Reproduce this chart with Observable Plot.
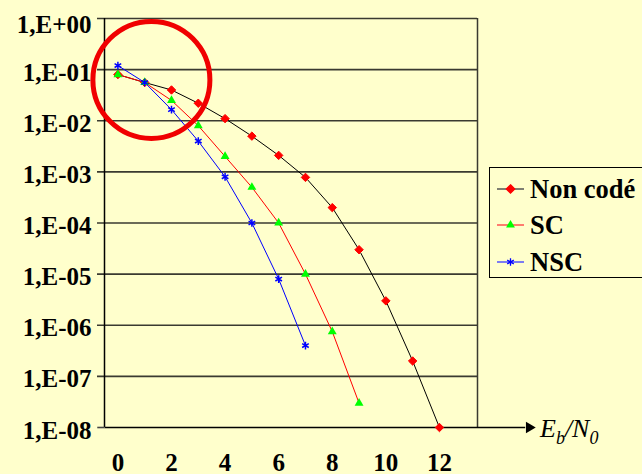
<!DOCTYPE html>
<html><head><meta charset="utf-8">
<script src="https://cdn.jsdelivr.net/npm/d3@7"></script>
<script src="https://cdn.jsdelivr.net/npm/@observablehq/plot@0.6"></script>
<style>
html,body{margin:0;padding:0;background:#FFFFCC;overflow:hidden;}
#wrap{position:relative;width:642px;height:474px;background:#FFFFCC;overflow:hidden;font-family:"Liberation Serif","Times New Roman",serif;}
#chart{position:absolute;left:0;top:0;}
#legend{position:absolute;left:489px;top:167px;width:180px;height:111px;border:1.5px solid #000;box-sizing:border-box;}
.row{position:absolute;left:7px;height:30px;display:flex;align-items:center;}
.row span{font-family:"Liberation Serif","Times New Roman",serif;font-weight:bold;font-size:26.5px;color:#000;margin-left:6px;line-height:30px;}
#xlabel{position:absolute;left:540px;top:416px;font-family:"Liberation Serif","Times New Roman",serif;font-style:italic;font-size:26px;line-height:26px;color:#000;white-space:nowrap;}
#xlabel .sub{font-size:18px;position:relative;top:7px;}
</style>
</head><body>
<div id="wrap">
  <div id="chart"></div>
  <div id="legend"></div>
  <div id="xlabel">E<span class="sub">b</span>/N<span class="sub">0</span></div>
</div>
<script>
// ---- data ----
const ebn0 = [0, 1, 2, 3, 4, 5, 6, 7, 8, 9, 10, 11, 12];
const nonCode = [0.08, 0.056, 0.040, 0.022, 0.011, 0.005, 0.0021, 0.00078, 0.0002, 0.00003, 0.000003, 0.0000002, 0.00000001];
const sc = [0.08, 0.056, 0.025, 0.008, 0.002, 0.0005, 0.0001, 0.00001, 0.00000075, 0.00000003];
const nsc = [0.12, 0.056, 0.0165, 0.004, 0.0008, 0.0001, 0.000008, 0.0000004];
const seriesNames = ["Non codé", "SC", "NSC"];
const yTicks = [1, 1e-1, 1e-2, 1e-3, 1e-4, 1e-5, 1e-6, 1e-7, 1e-8];
const xTicks = [0, 2, 4, 6, 8, 10, 12];
const xDomain = [-0.5, 13.42];
const highlight = [{x: 1.25, y: 0.063}];

const rows = (vals) => vals.map((v, i) => ({x: ebn0[i], y: v}));
const fmt = d => {
  const e = Math.round(Math.log10(d));
  return "1,E" + (e >= 0 ? "+" : "-") + String(Math.abs(e)).padStart(2, "0");
};
const font = {fontFamily: "'Liberation Serif', 'Times New Roman', serif", fontWeight: "bold", fontSize: 25, fill: "#000"};

const chart = Plot.plot({
  width: 642, height: 474,
  marginLeft: 104, marginRight: 165, marginTop: 18, marginBottom: 47,
  style: {background: "transparent", overflow: "visible"},
  x: {domain: xDomain, axis: null},
  y: {type: "log", domain: [1e-8, 1], axis: null},
  marks: [
    Plot.ruleY(yTicks.slice(0, -1), {stroke: "#3a3a30", strokeWidth: 1.6, insetLeft: -7}),
    Plot.ruleX([xDomain[0]], {stroke: "#000", strokeWidth: 1.5}),
    Plot.ruleX([xDomain[1]], {stroke: "#3a3a30", strokeWidth: 1.5}),
    Plot.link([{x1: xDomain[0], x2: 15.2}], {x1: "x1", x2: "x2", y1: () => 1e-8, y2: () => 1e-8, stroke: "#000", strokeWidth: 1.6}),
    Plot.link([{x1: xDomain[0] - 0.27, x2: xDomain[0]}], {x1: "x1", x2: "x2", y1: () => 1e-8, y2: () => 1e-8, stroke: "#444", strokeWidth: 1.6}),
    Plot.dot([{x: 15.35, y: 1e-8}], {x: "x", y: "y", symbol: "triangle", rotate: 90, r: 4.2, fill: "#000", stroke: "none"}),
    Plot.text(yTicks.slice(1), {x: () => xDomain[0], y: d => d, text: fmt, textAnchor: "end", dx: -13, dy: 3, ...font}),
    Plot.text([yTicks[0]], {x: () => xDomain[0], y: d => d, text: fmt, textAnchor: "end", dx: -13, dy: 6, ...font}),
    Plot.text(xTicks, {x: d => d, y: () => 1e-8, text: d => String(d), dy: 35, ...font}),
    Plot.line(rows(nonCode), {x: "x", y: "y", stroke: "#000", strokeWidth: 1}),
    Plot.line(rows(sc), {x: "x", y: "y", stroke: "#ff0000", strokeWidth: 1}),
    Plot.line(rows(nsc), {x: "x", y: "y", stroke: "#0000ff", strokeWidth: 1}),
    Plot.dot(rows(nonCode), {x: "x", y: "y", symbol: "diamond2", r: 3.8, fill: "#ff0000", stroke: "#ff0000", strokeWidth: 1}),
    Plot.dot(rows(sc), {x: "x", y: "y", symbol: "triangle", r: 3.3, fill: "#00ff00", stroke: "none"}),
    Plot.dot(rows(nsc), {x: "x", y: "y", symbol: "asterisk", r: 3.6, stroke: "#0000ff", strokeWidth: 1.5}),
    Plot.dot(highlight, {x: "x", y: "y", r: 58.5, fill: "none", stroke: "#f00000", strokeWidth: 5})
  ]
});
document.getElementById("chart").appendChild(chart);

// ---- legend ----
const legendStyles = [
  {line: "#555", sym: d3.symbolDiamond2, size: 45, fill: "#ff0000", stroke: "#ff0000"},
  {line: "#ff5050", sym: d3.symbolTriangle, size: 34, fill: "#00ff00", stroke: "none"},
  {line: "#5050ff", sym: d3.symbolAsterisk, size: 40, fill: "none", stroke: "#0000ff"}
];
const legendTops = [6, 42, 79];
const legend = d3.select("#legend");
seriesNames.forEach((name, i) => {
  const st = legendStyles[i];
  const row = legend.append("div").attr("class", "row").style("top", legendTops[i] + "px");
  const svg = row.append("svg").attr("width", 27).attr("height", 14);
  svg.append("line").attr("x1", 0).attr("x2", 27).attr("y1", 7).attr("y2", 7).attr("stroke", st.line).attr("stroke-width", 1.5);
  svg.append("path").attr("transform", "translate(13.5,7)").attr("d", d3.symbol(st.sym, st.size)())
    .attr("fill", st.fill).attr("stroke", st.stroke).attr("stroke-width", 1.3);
  row.append("span").text(name);
});
</script>
</body></html>
